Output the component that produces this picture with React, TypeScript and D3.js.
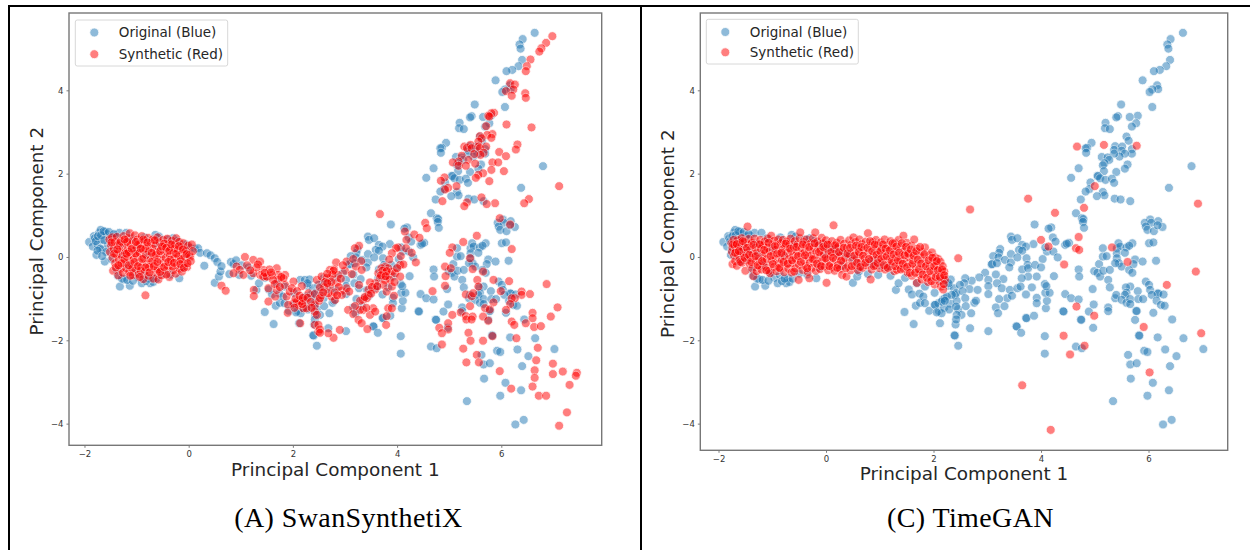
import React, { useRef, useEffect } from "react";
import * as d3 from "d3";

type Pt = [number, number];

const xTicks = [-2, 0, 2, 4, 6];
const yTicks = [-4, -2, 0, 2, 4];
const legendLabels = ["Original (Blue)", "Synthetic (Red)"];
const xLabel = "Principal Component 1";
const yLabel = "Principal Component 2";

// same original data in both panels
const originalCloud: Pt[] = [
  [-1.91,0.36],[-1.84,0.25],[-1.82,0.5],[-1.8,0.45],[-1.77,0.05],[-1.75,0.3],[-1.72,0.58],[-1.69,0.65],[-1.67,0.42],[-1.65,0.18],
  [-1.61,-0.11],[-1.6,0.6],[-1.57,0.55],[-1.55,0.3],[-1.5,0.48],[-1.48,-0.05],[-1.45,0.15],[-1.41,0.52],[-1.38,-0.3],[-1.33,0.58],
  [-1.3,0.32],[-1.32,-0.71],[-1.27,0.05],[-1.24,-0.54],[-1.2,0.58],[-1.17,-0.2],[-1.13,-0.69],[-1.1,0.45],[-1.04,-0.39],[-1.0,0.2],
  [-0.96,-0.5],[-0.9,-0.63],[-0.85,0.47],[-0.86,-0.43],[-0.8,0.05],[-0.74,-0.63],[-0.71,-0.51],[-0.68,-0.6],[-0.64,0.53],[-0.6,0.3],
  [-0.57,0.49],[-0.5,-0.4],[-0.4,0.42],[-0.35,-0.42],[-0.3,0.45],[-0.22,0.38],[-0.18,-0.51],[-0.15,0.28],[-0.12,-0.25],[-0.05,0.3],
  [-1.78,0.38],[-1.74,0.5],[-1.7,0.2],[-1.68,0.52],[-1.63,0.62],[-1.62,0.4],[-1.58,0.12],[-1.53,0.6],[-1.75,0.15],[-1.66,0.02],
  [-1.44,0.55],[-1.36,-0.45],[-1.28,-0.52],[-1.18,-0.55],[-1.07,-0.57],[-0.82,-0.58],[-0.77,-0.52],[-0.62,-0.52],
  [-0.02,0.05],[0.03,0.22],[0.12,0.2],[0.18,0.21],[0.22,0.1],[0.3,-0.21],[0.35,0.09],[0.42,0.04],[0.5,-0.03],[0.55,-0.12],
  [0.5,-0.62],[0.58,-0.47],[0.61,-0.35],[0.63,-0.22],[0.78,-0.41],[0.81,-0.12],[0.86,-0.17],[0.91,-0.08],[0.97,-0.43],[1.02,-0.2],
  [1.15,-0.25],[1.2,-0.45],[1.3,-0.79],[1.35,-0.63],[1.46,-1.32],[1.47,-0.5],[1.54,-0.78],[1.6,-0.9],[1.63,-1.61],[1.67,-1.17],
  [1.69,-0.63],[1.74,-0.88],[1.75,-1.1],[1.81,-0.95],[1.84,-1.11],[1.84,-0.71],[1.92,-1.29],[2.02,-0.86],[2.02,-1.15],[2.09,-1.11],
  [2.1,-1.3],[2.18,-1.02],[2.2,-1.22],[2.14,-0.55],[2.21,-0.99],[2.23,-0.55],[2.28,-0.69],[2.38,-0.75],
  [2.31,-1.12],[2.4,-0.91],[2.43,-1.05],[2.41,-1.62],[2.4,-1.89],[2.46,-1.25],
];

const originalMiddle: Pt[] = [
  [3.44,0.49],[3.46,0.41],[3.56,0.45],[4.22,0.47],[3.86,0.31],[3.65,0.29],[3.72,0.25],[4.27,0.37],[4.45,0.29],[4.52,0.34],
  [4.48,0.32],[4.11,0.13],[4.08,0.23],[4.23,0.13],[4.31,-0.01],[4.03,-0.05],[3.59,0.17],[3.65,0.15],[3.24,0.19],[3.22,0.1],
  [3.11,0.02],[3.21,-0.01],[3.08,-0.18],[3.09,-0.17],[3.18,-0.15],[3.33,-0.07],[3.44,0.07],[3.44,-0.13],[3.41,-0.25],[3.56,-0.01],
  [3.73,-0.03],[3.75,-0.19],[3.65,-0.3],[3.76,-0.27],[3.89,-0.19],[4.0,-0.25],[3.92,-0.47],[3.76,-0.47],[3.64,-0.51],[3.16,-0.42],
  [2.96,-0.38],[3.02,-0.55],[3.3,-0.53],[2.85,-0.49],[2.71,-0.57],[2.59,-0.51],[2.57,-0.63],[2.49,-0.67],[2.32,-0.54],[2.28,-0.63],
  [2.67,-0.77],[2.82,-0.79],[3.02,-0.7],[3.18,-0.63],[3.27,-0.75],[3.42,-0.79],[3.56,-0.75],[3.62,-0.71],[3.83,-0.73],[3.72,-0.9],
  [3.37,-0.99],[3.22,-1.01],[3.46,-0.93],[3.02,-0.89],[2.42,-0.87],[2.54,-0.82],[2.34,-0.91],[2.25,-0.95],[2.59,-0.99],[2.15,-1.07],
  [2.03,-1.15],[2.21,-1.05],[2.29,-1.26],[2.15,-1.35],[2.06,-1.33],[2.42,-1.19],[2.6,-1.18],[2.76,-1.1],[2.79,-1.05],[3.16,-1.21],
  [3.32,-1.18],[3.2,-1.35],[2.52,-1.39],[2.43,-1.39],[2.7,-1.35],[2.42,-1.5],[2.12,-1.59],[2.68,-1.71],[3.02,-1.78],[2.39,-1.88],
  [2.46,-2.13],[3.54,-1.66],[3.55,-1.67],[3.63,-1.82],[3.72,-1.46],[3.73,-1.47],[3.87,-1.41],[3.92,-0.98],[3.92,-1.11],[4.09,-1.23],
  [4.11,-1.05],[4.08,-0.86],[4.16,-0.86],[4.07,-0.65],[4.1,-0.7],[4.24,-0.46],[4.45,-0.89],[4.56,-0.99],[4.7,-1.02],[4.41,-1.3],
  [4.42,-1.31],[4.07,-1.9],[4.07,-2.32],[4.74,-1.5],[4.75,-1.51],[4.89,-1.31],[4.98,-1.14],[4.97,-1.7],[4.65,-2.15],[4.76,-2.19],
];

const originalRight: Pt[] = [
  [4.7,-0.3],[4.71,-0.47],[4.96,-0.77],[4.99,-0.34],[5.08,-0.17],[5.05,-0.38],[5.1,-0.47],[5.16,-0.33],[5.28,-0.31],[5.25,-0.55],
  [5.28,-0.73],[5.15,0.21],[5.15,0.01],[5.22,0.02],[5.41,0.21],[5.44,0.33],[5.47,0.25],[5.59,0.23],[5.7,0.33],[5.64,0.27],
  [5.41,0.09],[5.56,0.1],[5.41,-0.03],[5.45,-0.15],[5.5,-0.23],[5.38,-0.15],[5.75,-0.06],[5.72,-0.17],[5.89,-0.11],[5.64,-0.31],
  [5.7,-0.38],[6.01,0.33],[6.09,0.35],[6.14,-0.09],[5.95,-0.59],[6.01,-0.67],[6.03,-0.79],[5.66,-0.71],[5.58,-0.73],[5.59,-0.86],
  [5.56,-0.91],[5.8,-0.82],[5.38,-0.99],[5.4,-0.91],[5.5,-1.03],[5.59,-1.1],[5.66,-1.01],[5.66,-1.13],[5.81,-1.01],[5.9,-1.01],
  [5.77,-1.29],[5.78,-1.3],[5.25,-1.21],[5.25,-1.3],[6.09,-1.34],[6.17,-0.87],[6.18,-0.88],[6.06,-0.91],[6.28,-0.9],[6.15,-1.05],
  [6.23,-1.15],[6.3,-1.17],[6.44,-1.5],[5.75,-1.51],[6.17,-1.93],[5.82,-1.88],[5.83,-1.89],[6.65,-1.95],[6.31,-2.22],[5.92,-2.25],
  [5.98,-2.28],[6.52,-2.38],[7.02,-2.21],[5.62,-2.35],[5.66,-2.58],[5.78,-2.55],[6.4,-2.62],[5.67,-2.92],[6.08,-3.02],[6.38,-3.2],
  [5.98,-3.33],[5.34,-3.46],[6.27,-4.02],[6.43,-3.91],
];

const originalUpper: Pt[] = [
  [6.64,5.38],[6.41,5.23],[6.35,5.1],[6.37,5.0],[6.4,4.73],[6.33,4.58],[6.21,4.49],[6.1,4.46],[5.89,4.24],[6.16,4.12],
  [6.18,4.03],[6.07,4.02],[6.02,3.96],[6.07,3.6],[5.49,3.66],[5.8,3.39],[5.65,3.36],[5.43,3.38],[5.4,3.35],[5.2,3.22],
  [5.19,3.09],[5.28,3.07],[5.77,3.21],[5.69,3.13],[5.59,2.89],[5.63,2.79],[4.94,2.74],[4.86,2.62],[4.83,2.61],[4.84,2.5],
  [5.38,2.66],[5.36,2.57],[5.51,2.65],[5.5,2.55],[5.69,2.59],[5.69,2.48],[5.56,2.48],[5.46,2.41],[5.36,2.48],[5.13,2.4],
  [5.24,2.39],[5.27,2.33],[5.18,2.25],[5.15,2.2],[5.61,2.22],[5.56,2.12],[6.8,2.18],[4.7,2.13],[4.56,1.9],[5.17,2.06],
  [5.4,2.04],[5.05,1.95],[5.06,1.94],[5.1,1.89],[5.2,1.85],[5.32,1.88],[5.36,1.78],[4.92,1.79],[4.9,1.63],[4.83,1.57],
  [5.15,1.56],[5.18,1.48],[5.04,1.46],[6.38,1.66],[4.74,1.38],[5.37,1.4],[5.48,1.38],[5.66,1.34],[4.65,1.05],[4.76,0.93],
  [4.79,0.91],[4.78,0.84],[4.8,0.7],[3.88,0.78],[4.19,0.71],[4.14,0.68],[6.03,0.9],
  [5.93,0.82],[6.18,0.86],[6.05,0.82],[5.95,0.73],[5.98,0.65],[6.1,0.62],[6.26,0.72],[6.17,0.76],
];

const originalPoints: Pt[] = [...originalCloud, ...originalMiddle, ...originalRight, ...originalUpper];

// SwanSynthetiX panel
const swanCloud: Pt[] = [
  [-1.52,0.42],[-1.49,0.28],[-1.51,0.12],[-1.47,0.47],[-1.46,-0.02],[-1.44,0.2],[-1.45,-0.33],[-1.42,0.36],[-1.41,-0.15],[-1.39,0.06],
  [-1.38,0.48],[-1.36,0.28],[-1.35,-0.44],[-1.34,-0.06],[-1.33,0.15],[-1.31,-0.28],[-1.3,0.38],[-1.28,0.02],[-1.27,0.24],[-1.26,-0.38],
  [-1.25,0.5],[-1.24,-0.14],[-1.22,0.1],[-1.21,0.33],[-1.2,-0.27],[-1.18,-0.04],[-1.17,0.18],[-1.16,0.45],[-1.14,-0.36],[-1.13,0.57],
  [-1.12,0.05],[-1.11,0.28],[-1.1,-0.17],[-1.08,0.39],[-1.07,-0.44],[-1.06,-0.06],[-1.05,0.15],[-1.03,0.52],[-1.02,-0.29],[-1.0,0.24],
  [-0.99,0.02],[-0.98,0.42],[-0.96,-0.41],[-0.95,-0.13],[-0.94,0.1],[-0.93,0.32],[-0.91,-0.24],[-0.9,0.5],[-0.88,0.18],[-0.87,-0.53],
  [-0.86,-0.03],[-0.85,0.38],[-0.84,-0.34],[-0.82,0.05],[-0.81,0.27],[-0.8,-0.17],[-0.78,0.46],[-0.77,-0.45],[-0.76,0.13],[-0.74,-0.07],
  [-0.73,0.34],[-0.72,-0.28],[-0.7,0.21],[-0.69,0.42],[-0.68,-0.52],[-0.66,0.02],[-0.65,-0.17],[-0.64,0.28],[-0.62,-0.38],[-0.61,0.12],
  [-0.6,0.47],[-0.58,-0.54],[-0.57,-0.05],[-0.56,0.35],[-0.54,-0.25],[-0.53,0.19],[-0.52,-0.44],[-0.5,0.05],[-0.49,0.41],[-0.48,-0.14],
  [-0.46,0.26],[-0.45,-0.33],[-0.44,-0.02],[-0.42,0.13],[-0.41,0.44],[-0.4,-0.22],[-0.38,0.32],[-0.37,-0.48],[-0.36,0.04],[-0.34,0.21],
  [-0.33,-0.12],[-0.32,0.39],[-0.3,-0.32],[-0.29,0.1],[-0.28,-0.04],[-0.26,0.3],[-0.25,-0.4],[-0.24,0.45],[-0.22,-0.2],[-0.21,0.17],
  [-0.2,0.02],[-0.18,0.36],[-0.17,-0.28],[-0.16,-0.1],[-0.14,0.24],[-0.13,-0.35],[-0.12,0.09],[-0.1,0.33],[-0.08,-0.16],[-0.07,0.0],
  [-0.05,0.15],[-0.03,-0.24],[-0.01,0.27],[0.01,0.05],[0.03,0.0],[0.06,0.3],[0.04,-0.1],[0.08,0.14],
  [-1.33,0.33],[-1.18,0.36],[-1.02,0.08],[-0.83,0.2],[-0.7,-0.1],[-0.63,0.05],[-0.47,0.32],[-0.35,-0.06],[-0.27,0.2],[-1.23,-0.05],
  [-1.08,-0.28],[-0.92,-0.33],[-0.76,-0.24],[-0.59,-0.3],[-0.43,-0.42],[-0.31,-0.23],[-0.15,-0.05],[-0.55,0.14],[-0.97,0.3],[-1.15,0.12],
  [-1.48,0.35],[-1.43,0.08],[-1.4,-0.25],[-1.37,0.18],[-1.29,-0.15],[-1.23,0.42],[-1.19,0.08],[-1.15,-0.2],[-1.09,0.2],[-1.04,-0.12],
  [-1.01,0.36],[-0.97,-0.22],[-0.92,0.2],[-0.89,-0.05],[-0.87,0.42],[-0.83,-0.25],[-0.79,0.35],[-0.75,-0.37],[-0.71,0.1],[-0.67,-0.22],
  [-0.65,0.4],[-0.6,-0.12],[-0.55,-0.36],[-0.51,0.25],[-0.47,-0.24],[-0.43,0.22],[-0.39,-0.12],[-0.37,0.15],[-0.33,0.3],[-0.28,-0.14],
  [-0.24,0.08],[-0.19,0.26],[-0.16,-0.17],[-0.11,0.18],[-0.09,-0.26],[-0.04,0.07],[-0.02,-0.15],[-1.35,-0.2],[-1.12,-0.45],[-0.94,-0.48],
];

const swanChain: Pt[] = [
  [-0.83,-0.92],[0.63,-0.69],[0.71,-0.81],[1.08,0.0],[0.92,-0.23],[1.24,-0.07],[1.37,-0.11],[0.98,-0.31],[1.43,-0.31],[1.69,-0.27],
  [1.85,-0.43],[1.5,-0.47],[1.37,-0.43],[1.25,-0.79],[1.25,-0.94],[1.53,-1.07],[1.66,-0.95],[1.69,-0.79],[1.53,-0.75],[1.43,-0.47],
  [1.72,-0.43],[1.85,-0.67],[2.01,-0.59],[2.17,-0.7],[1.88,-0.95],[1.94,-0.83],[2.01,-1.11],[2.14,-1.03],[2.11,-1.15],[2.2,-1.23],
  [1.91,-1.15],[1.9,-1.34],[2.26,-1.23],[2.14,-1.59],[2.42,-1.15],[2.42,-1.31],[2.46,-1.39],[2.42,-1.63],[2.49,-1.63],[2.49,-1.79],
  [2.46,-0.55],[2.3,-0.87],[2.42,-0.89],[2.23,-1.03],[0.86,-0.39],[1.05,-0.43],[1.24,-0.39],[1.5,-0.47],[1.6,-0.43],[1.72,-0.55],
  [1.82,-0.51],[1.12,-0.2],[1.3,-0.25],[1.55,-0.3],[1.62,-0.55],[2.12,-1.1],[2.16,-1.06],[2.08,-1.07],[2.18,-1.13],[2.05,-1.0],
  [1.18,-0.32],[1.33,-0.18],[1.46,-0.38],[1.58,-0.37],[1.65,-0.65],[1.78,-0.48],[1.75,-0.72],[1.98,-0.75],[2.08,-0.82],[2.13,-0.93],
  [2.19,-0.98],[2.03,-1.22],[2.28,-0.98],[2.35,-1.08],[2.5,-1.05],[2.55,-0.92],[2.36,-1.22],
];

const swanMiddle: Pt[] = [
  [4.15,0.61],[4.33,0.54],[4.43,0.46],[4.18,0.41],[5.53,0.51],[5.27,0.36],[5.06,0.23],[5.01,0.1],[6.2,0.19],[4.02,0.23],
  [3.98,0.21],[3.9,0.09],[4.17,0.21],[4.28,0.1],[3.85,-0.06],[4.07,0.02],[4.36,-0.13],[4.06,-0.19],[4.12,-0.18],[3.27,0.27],
  [3.19,0.21],[2.83,-0.13],[3.03,-0.11],[3.16,-0.05],[3.31,-0.1],[3.21,-0.23],[3.32,-0.31],[2.71,-0.31],[2.79,-0.3],[3.0,-0.33],
  [3.13,-0.41],[2.87,-0.43],[2.71,-0.51],[2.55,-0.47],[2.65,-0.5],[3.27,-0.67],[2.85,-0.61],[2.94,-0.81],[2.71,-0.71],[2.6,-0.73],
  [3.03,-0.75],[3.08,-0.83],[2.94,-0.91],[2.74,-0.95],[2.81,-1.03],[2.68,-0.87],[2.52,-0.99],[2.52,-0.73],[2.76,-0.42],[2.62,-0.6],
  [2.78,-0.33],[2.74,-0.6],[2.88,-0.72],[2.58,-0.85],[2.8,-0.85],[2.66,-0.4],[2.92,-0.52],[2.96,-0.2],[2.66,-0.63],[2.85,-0.92],
  [3.77,-0.23],[3.83,-0.27],[3.7,-0.27],[3.64,-0.39],[3.74,-0.39],[3.83,-0.43],[3.9,-0.35],[3.67,-0.51],[3.77,-0.55],[3.86,-0.55],
  [3.96,-0.39],[4.0,-0.27],[4.06,-0.47],[3.74,-0.67],[3.58,-0.63],[3.48,-0.61],[3.58,-0.78],[3.45,-0.79],[3.45,-0.91],[3.35,-1.03],
  [3.29,-1.05],[3.42,-0.99],[3.8,-0.83],[3.9,-0.71],[3.94,-0.93],[3.54,-1.23],[3.35,-1.27],[3.29,-1.27],[3.19,-1.18],[3.06,-1.27],
  [3.16,-1.37],[3.26,-1.51],[3.32,-1.59],[3.48,-1.39],[3.58,-1.31],[3.83,-1.23],[3.9,-1.23],[3.8,-1.42],[3.79,-1.63],[3.43,-1.73],
  [2.9,-1.75],[2.78,-1.94],[2.68,-1.83],[2.52,-1.74],[2.52,-1.82],[3.72,-0.33],[3.8,-0.34],[3.69,-0.44],[3.78,-0.46],[3.52,-0.72],
  [3.62,-0.7],[3.38,-0.96],[3.5,-0.88],[3.95,-0.6],[3.41,-1.22],
];

const swanRight: Pt[] = [
  [4.92,-0.23],[5.03,-0.27],[4.93,-0.46],[4.92,-0.69],[4.68,-0.82],[5.32,-0.9],[5.43,-0.94],[5.4,-0.03],[5.45,-0.29],[5.65,-0.35],
  [5.54,-0.55],[5.56,-0.71],[5.46,-0.87],[5.85,-0.55],[6.15,-0.58],[5.99,-0.82],[6.87,-0.65],[6.39,-0.83],[6.39,-0.91],[6.55,-0.89],
  [6.26,-0.99],[6.2,-0.99],[6.17,-1.13],[5.85,-1.09],[5.4,-1.18],[5.22,-1.33],[5.32,-1.42],[5.45,-1.43],[5.33,-1.5],[5.43,-1.5],
  [5.69,-1.23],[5.78,-1.26],[6.09,-1.27],[5.65,-1.43],[5.75,-1.53],[5.06,-1.39],[4.98,-1.59],[4.98,-1.74],[4.81,-1.7],[4.86,-1.83],
  [4.86,-2.1],[6.6,-1.34],[6.6,-1.47],[7.08,-1.21],[6.95,-1.43],[6.2,-1.55],[6.25,-1.63],[6.47,-1.59],[6.63,-1.68],[6.76,-1.66],
  [5.37,-1.82],[5.41,-2.01],[5.65,-2.01],[5.83,-1.9],[6.29,-1.95],[5.27,-2.2],[5.53,-2.35],[5.33,-2.53],[5.57,-2.53],[6.7,-2.18],
  [6.67,-2.48],[6.99,-2.56],[6.64,-2.72],[5.97,-2.74],[6.99,-2.81],[7.18,-2.75],[7.45,-2.78],[7.43,-2.85],[6.64,-2.9],[6.6,-3.11],
  [7.31,-3.07],[6.19,-3.16],[6.72,-3.33],[6.86,-3.33],[7.26,-3.73],[7.11,-4.05],
];

const swanUpper: Pt[] = [
  [6.98,5.3],[6.86,5.14],[6.77,5.01],[6.73,4.93],[6.56,4.74],[6.49,4.58],[6.47,4.46],[6.17,4.17],[6.26,4.14],[6.23,4.02],
  [6.09,3.98],[6.2,3.87],[6.46,3.93],[6.47,3.82],[6.1,3.18],[6.58,3.11],[5.86,3.46],[5.81,3.45],[5.75,3.39],[5.77,3.37],
  [5.71,3.14],[5.83,2.95],[5.73,2.93],[5.81,2.86],[5.59,2.9],[5.62,2.85],[5.56,2.77],[5.29,2.65],[5.34,2.62],[5.41,2.69],
  [5.43,2.61],[5.56,2.65],[5.59,2.61],[5.71,2.65],[5.66,2.5],[5.6,2.45],[5.48,2.47],[5.24,2.43],[5.37,2.33],[5.18,2.29],
  [5.07,2.27],[5.18,2.19],[5.32,2.19],[5.5,2.24],[5.96,2.52],[6.09,2.42],[6.31,2.7],[6.28,2.58],[5.83,2.27],[5.94,2.27],
  [5.81,2.09],[6.05,2.06],[5.65,2.01],[5.56,1.97],[5.51,1.9],[5.77,1.82],[4.91,1.91],[4.84,1.83],[5.14,1.7],[4.98,1.66],
  [4.92,1.62],[7.11,1.7],[5.62,1.43],[6.53,1.39],[6.44,1.29],[5.88,1.29],[5.72,1.27],[4.87,1.34],[5.34,1.31],[5.29,1.22],
  [3.67,1.03],[4.54,0.82],[4.57,0.69],[5.97,0.93],[6.17,0.78],
];

const swanPoints: Pt[] = [...swanCloud, ...swanChain, ...swanMiddle, ...swanRight, ...swanUpper];

// TimeGAN panel
const timeganBand: Pt[] = [
  [-1.76,0.33],[-1.75,0.12],[-1.74,0.22],[-1.74,-0.17],[-1.72,0.41],[-1.71,0.03],[-1.7,0.28],[-1.69,-0.1],[-1.68,0.16],[-1.66,-0.21],
  [-1.65,0.4],[-1.64,0.05],[-1.63,0.24],[-1.61,-0.06],[-1.6,0.33],[-1.58,0.13],[-1.57,0.45],[-1.56,-0.14],[-1.54,0.22],[-1.53,0.02],
  [-1.52,0.36],[-1.5,-0.33],[-1.49,0.1],[-1.48,-0.08],[-1.46,0.73],[-1.45,0.3],[-1.44,0.43],[-1.42,-0.17],[-1.41,0.17],[-1.4,-0.02],
  [-1.38,0.34],[-1.37,-0.28],[-1.36,0.06],[-1.35,-0.46],[-1.33,0.44],[-1.32,0.22],[-1.3,-0.11],[-1.29,-0.34],[-1.28,0.12],[-1.26,0.31],
  [-1.25,-0.04],[-1.24,-0.22],[-1.22,0.41],[-1.21,0.2],[-1.2,-0.3],[-1.18,0.03],[-1.17,0.28],[-1.16,-0.13],[-1.14,0.37],[-1.13,0.1],
  [-1.12,-0.24],[-1.1,-0.05],[-1.09,0.22],[-1.08,0.44],[-1.06,-0.33],[-1.05,0.14],[-1.04,-0.39],[-1.02,0.51],[-1.01,-0.1],[-1.0,0.3],
  [-0.98,0.05],[-0.97,-0.24],[-0.96,0.39],[-0.94,0.17],[-0.93,-0.04],[-0.92,-0.34],[-0.9,0.27],[-0.89,0.42],[-0.88,-0.16],[-0.86,0.08],
  [-0.85,-0.27],[-0.84,0.33],[-0.82,-0.07],[-0.81,0.18],[-0.8,0.41],[-0.78,-0.36],[-0.77,0.02],[-0.76,0.25],[-0.74,-0.18],[-0.73,0.37],
  [-0.72,0.1],[-0.7,-0.28],[-0.69,-0.05],[-0.68,0.3],[-0.66,0.44],[-0.65,0.15],[-0.64,-0.37],[-0.62,-0.15],[-0.61,0.04],[-0.6,0.24],
  [-0.58,0.38],[-0.57,-0.27],[-0.56,-0.04],[-0.54,0.13],[-0.53,0.3],[-0.51,-0.55],[-0.5,-0.19],[-0.49,0.45],[-0.48,0.59],[-0.46,0.06],
  [-0.45,0.21],[-0.44,-0.31],[-0.42,0.36],[-0.41,-0.09],[-0.4,0.11],[-0.38,-0.22],[-0.37,0.28],[-0.36,0.42],[-0.34,-0.36],[-0.33,0.0],
  [-0.32,0.17],[-0.31,-0.51],[-0.3,-0.14],[-0.28,0.33],[-0.27,0.05],[-0.26,-0.26],[-0.24,0.45],[-0.23,0.22],[-0.22,-0.06],[-0.2,0.59],
  [-0.19,-0.33],[-0.18,0.12],[-0.16,0.37],[-0.15,-0.18],[-0.14,0.27],[-0.12,-0.01],[-0.11,-0.29],[-0.1,0.16],[-0.08,0.46],[-0.07,-0.1],
  [-0.06,0.33],[-0.04,0.06],[-0.03,-0.22],[-0.02,0.21],[0.0,0.4],[0.01,-0.62],[0.02,-0.06],[0.04,-0.32],[0.05,0.13],[0.07,0.3],
  [0.08,-0.15],[0.09,0.02],[0.11,0.38],[0.12,-0.25],[0.14,0.76],[0.15,0.2],[0.16,-0.33],[0.18,-0.07],[0.19,0.1],[0.2,0.34],
  [0.22,-0.19],[0.23,0.25],[0.25,0.02],[0.26,-0.28],[0.27,0.41],[0.3,-0.43],[0.31,0.14],[0.32,-0.12],[0.34,0.32],[0.36,-0.03],
  [0.38,-0.47],[0.39,0.22],[0.41,-0.22],[0.43,0.4],[0.44,0.06],[0.46,-0.32],[0.47,0.3],[0.49,-0.09],[0.51,0.47],[0.52,0.15],
  [0.54,-0.2],[0.55,0.36],[0.57,-0.02],[0.59,-0.31],[0.6,0.24],[0.62,0.42],[0.63,0.07],[0.65,-0.13],[0.67,0.31],[0.68,-0.26],
  [0.7,0.17],[0.72,-0.04],[0.74,0.37],[0.75,-0.2],[0.78,0.57],[0.79,0.1],[0.81,0.27],[0.83,-0.54],[0.84,-0.09],[0.85,-0.3],
  [0.87,0.36],[0.88,0.03],[0.9,0.18],[0.92,-0.2],[0.93,0.41],[0.95,0.28],[0.97,-0.05],[0.98,0.1],[1.0,-0.27],[1.02,0.35],
  [1.04,0.2],[1.05,-0.13],[1.07,0.02],[1.09,0.42],[1.1,-0.3],[1.12,0.13],[1.14,0.28],[1.16,-0.06],[1.18,-0.22],[1.2,0.38],
  [1.21,0.06],[1.23,0.21],[1.25,-0.13],[1.27,-0.34],[1.28,0.33],[1.3,-0.02],[1.32,-0.31],[1.33,0.14],[1.35,0.41],[1.37,-0.2],
  [1.38,-0.07],[1.4,0.26],[1.42,0.05],[1.44,0.51],[1.45,-0.28],[1.47,0.17],[1.48,-0.13],[1.5,0.34],[1.52,-0.38],[1.54,-0.01],
  [1.55,0.1],[1.57,-0.22],[1.59,0.27],[1.6,-0.45],[1.62,-0.08],[1.64,0.42],[1.65,0.08],[1.67,-0.29],[1.69,-0.62],[1.7,0.2],
  [1.72,-0.15],[1.74,-0.42],[1.76,0.0],[1.78,-0.54],[1.79,0.12],[1.81,-0.27],[1.84,0.23],[1.85,-0.1],[1.87,-0.37],[1.9,-0.6],
  [1.92,0.04],[1.93,-0.22],[1.95,-0.48],[1.97,0.11],[1.99,-0.1],[2.0,-0.33],[2.02,-0.66],[2.03,-0.01],[2.05,-0.2],[2.07,-0.44],
  [2.09,-0.05],[2.1,-0.58],[2.11,-0.28],[2.13,-0.12],[2.14,-0.71],[2.15,-0.38],[2.17,-0.22],[2.18,-0.78],[2.18,-0.5],[2.2,-0.35],
  [2.21,-0.55],[2.19,-0.65],
];

// second pass over the band, it is much denser than one layer of dots
const timeganBandFill: Pt[] = [
  [-1.73,0.3],[-1.69,0.1],[-1.66,0.31],[-1.62,0.14],[-1.59,-0.12],[-1.55,0.38],[-1.51,-0.02],[-1.47,0.22],[-1.43,0.05],[-1.39,-0.12],
  [-1.35,0.29],[-1.31,0.02],[-1.27,-0.2],[-1.23,0.3],[-1.19,-0.1],[-1.15,0.17],[-1.11,-0.32],[-1.07,0.34],[-1.03,0.02],[-0.99,-0.17],
  [-0.95,0.26],[-0.91,0.08],[-0.87,-0.26],[-0.83,0.1],[-0.79,-0.12],[-0.75,0.32],[-0.71,-0.16],[-0.67,0.2],[-0.63,-0.08],[-0.59,-0.35],
  [-0.55,0.24],[-0.52,0.02],[-0.47,-0.12],[-0.43,0.3],[-0.39,0.04],[-0.35,-0.27],[-0.31,0.24],[-0.25,-0.05],[-0.21,0.33],[-0.17,-0.16],
  [-0.13,0.12],[-0.09,-0.22],[-0.05,0.24],[-0.01,-0.03],[0.03,0.3],[0.06,-0.22],[0.1,0.12],[0.13,-0.02],[0.17,0.28],[0.21,-0.26],
  [0.24,0.12],[0.28,-0.09],[0.33,0.22],[0.37,-0.27],[0.4,0.08],[0.45,0.22],[0.48,-0.22],[0.53,0.03],[0.56,0.27],[0.58,-0.14],
  [0.61,0.12],[0.64,-0.24],[0.66,0.24],[0.69,0.03],[0.73,-0.14],[0.77,0.22],[0.8,-0.05],[0.82,0.38],[0.86,0.14],[0.89,-0.22],
  [0.91,0.3],[0.94,0.05],[0.96,-0.14],[1.01,0.14],[1.03,-0.04],[1.06,0.3],[1.08,-0.2],[1.11,0.2],[1.13,0.02],[1.15,-0.26],
  [1.19,0.16],[1.22,-0.1],[1.24,0.33],[1.26,0.06],[1.29,-0.22],[1.31,0.25],[1.34,-0.08],[1.36,0.1],[1.39,-0.3],[1.41,0.33],
  [1.43,-0.16],[1.46,0.04],[1.49,0.24],[1.51,-0.24],[1.53,0.08],[1.56,-0.38],[1.58,0.18],[1.61,-0.16],[1.63,0.03],[1.66,-0.38],
  [1.68,0.14],[1.71,-0.06],[1.73,-0.3],[1.75,0.24],[1.77,-0.16],[1.8,-0.42],[1.83,0.06],[1.86,-0.22],[1.88,-0.5],[1.91,-0.08],
  [1.94,-0.34],[1.96,-0.58],[1.98,-0.02],[2.01,-0.22],[2.04,-0.48],[2.06,-0.1],[2.08,-0.32],[2.12,-0.48],[2.16,-0.3],[2.2,-0.44],
];

const timeganOutliers: Pt[] = [
  [4.67,2.65],[5.17,2.69],[5.78,2.67],[5.0,1.7],[3.76,1.4],[2.68,1.14],[6.92,1.28],[4.26,1.06],[4.8,1.18],[4.7,0.48],
  [4.0,0.41],[4.14,0.25],[4.65,0.21],[4.71,0.17],[5.32,0.23],[5.61,-0.12],[4.43,-0.18],[2.46,-0.03],[6.88,-0.35],[6.34,-0.67],
  [4.66,-1.19],[4.99,-1.41],[5.91,-1.68],[4.42,-1.89],[6.98,-1.83],[4.81,-2.13],[4.54,-2.34],[6.02,-2.77],[3.65,-3.08],[4.18,-4.15],
];

const timeganPoints: Pt[] = [...timeganBand, ...timeganBandFill, ...timeganOutliers];

const Panel = ({ layout, synthetic, title }: { layout: any; synthetic: Pt[]; title: string }) => {
  const ref = useRef<SVGGElement>(null);

  useEffect(() => {
    const g = d3.select(ref.current);
    g.selectAll("*").remove();
    const { left, right, top, bottom, xDomain, yDomain } = layout;

    const x = d3.scaleLinear().domain(xDomain).range([left, right]);
    const y = d3.scaleLinear().domain(yDomain).range([bottom, top]);

    const dots = (data: Pt[], color: string) =>
      g.append("g")
        .selectAll("circle")
        .data(data)
        .enter()
        .append("circle")
        .attr("cx", (d) => x(d[0]))
        .attr("cy", (d) => y(d[1]))
        .attr("r", 4.5)
        .attr("fill", color)
        .attr("stroke", "white")
        .attr("stroke-width", 0.8)
        .attr("opacity", 0.5);

    dots(originalPoints, "#1f77b4");
    dots(synthetic, "#ff0000");

    const xAxis = g.append("g")
      .attr("transform", `translate(0,${bottom})`)
      .call(d3.axisBottom(x).tickValues(xTicks).tickSize(2.5).tickPadding(3));
    const yAxis = g.append("g")
      .attr("transform", `translate(${left},0)`)
      .call(d3.axisLeft(y).tickValues(yTicks).tickSize(2.5).tickPadding(3));

    [xAxis, yAxis].forEach((a) => {
      a.select(".domain").remove();
      a.selectAll("text").attr("font-size", 8.5).attr("font-family", "DejaVu Sans").attr("fill", "#333");
      a.selectAll("line").attr("stroke", "#444").attr("stroke-width", 0.7);
    });

    g.append("rect")
      .attr("x", left)
      .attr("y", top)
      .attr("width", right - left)
      .attr("height", bottom - top)
      .attr("fill", "none")
      .attr("stroke", "#777")
      .attr("stroke-width", 1.4);

    // legend
    const lg = layout.legend;
    g.append("rect")
      .attr("x", lg.x)
      .attr("y", lg.y)
      .attr("width", lg.w)
      .attr("height", lg.h)
      .attr("rx", 2)
      .attr("fill", "white")
      .attr("stroke", "#d8d8d8");
    legendLabels.forEach((label, i) => {
      const cy = lg.y + lg.rowStart + i * lg.rowGap;
      g.append("circle")
        .attr("cx", lg.x + 19)
        .attr("cy", cy)
        .attr("r", 4.5)
        .attr("fill", i === 0 ? "#1f77b4" : "#ff0000")
        .attr("stroke", "white")
        .attr("stroke-width", 0.8)
        .attr("opacity", 0.5);
      g.append("text")
        .attr("x", lg.x + 43.5)
        .attr("y", cy + 4.5)
        .attr("font-family", "DejaVu Sans")
        .attr("font-size", 13.5)
        .attr("fill", "#262626")
        .text(label);
    });

    g.append("text")
      .attr("x", (left + right) / 2)
      .attr("y", layout.xLabelY)
      .attr("text-anchor", "middle")
      .attr("font-family", "DejaVu Sans")
      .attr("font-size", 18.4)
      .attr("fill", "#262626")
      .text(xLabel);

    g.append("text")
      .attr("transform", `translate(${layout.yLabelX},${(top + bottom) / 2 + 2}) rotate(-90)`)
      .attr("text-anchor", "middle")
      .attr("font-family", "DejaVu Sans")
      .attr("font-size", 18.4)
      .attr("fill", "#262626")
      .text(yLabel);

    g.append("text")
      .attr("x", layout.titleX)
      .attr("y", 527)
      .attr("text-anchor", "middle")
      .attr("font-family", "Liberation Serif")
      .attr("font-size", 28)
      .attr("letter-spacing", 0.4)
      .attr("fill", "#000")
      .text(title);
  }, [layout, synthetic, title]);

  return <g ref={ref}></g>;
};

const leftLayout = {
  left: 69, right: 601.7, top: 13, bottom: 445.3,
  xDomain: [-2.297, 7.927], yDomain: [-4.52, 5.856],
  legend: { x: 75.3, y: 20, w: 152.4, h: 46, rowStart: 12.5, rowGap: 21.7 },
  xLabelY: 476, yLabelX: 43, titleX: 348.5,
};

const rightLayout = {
  left: 700.3, right: 1227.7, top: 13, bottom: 450.3,
  xDomain: [-2.339, 7.473], yDomain: [-4.64, 5.856],
  legend: { x: 706.3, y: 19.3, w: 152, h: 44.7, rowStart: 12.7, rowGap: 20.3 },
  xLabelY: 480, yLabelX: 674, titleX: 970.5,
};

const App = () => {
  return (
    <svg width={1250} height={550} style={{ position: "absolute", left: 0, top: 0, background: "white" }}>
      <rect x={8} y={5} width={1242} height={2} fill="#000" />
      <rect x={8} y={5} width={2} height={545} fill="#000" />
      <rect x={640} y={5} width={2} height={545} fill="#000" />
      <Panel layout={leftLayout} synthetic={swanPoints} title="(A) SwanSynthetiX" />
      <Panel layout={rightLayout} synthetic={timeganPoints} title="(C) TimeGAN" />
    </svg>
  );
};

export default App;
